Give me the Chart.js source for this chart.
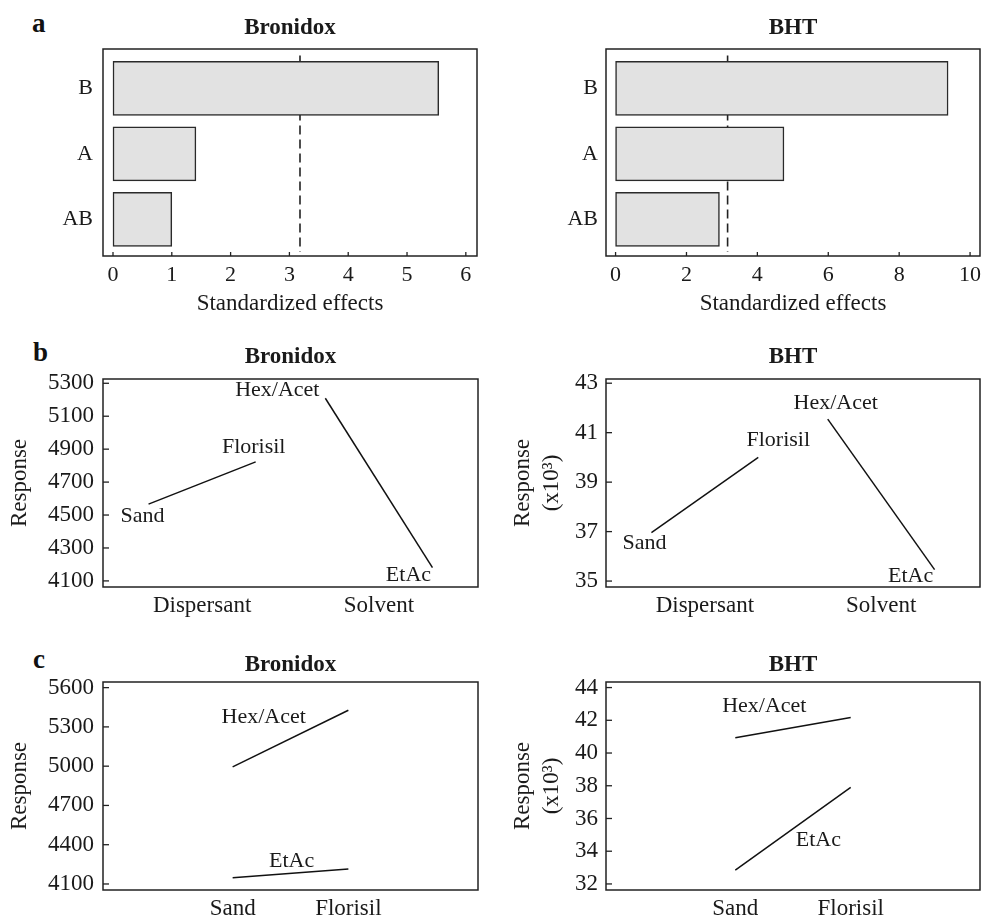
<!DOCTYPE html>
<html>
<head>
<meta charset="utf-8">
<script src="https://cdn.jsdelivr.net/npm/chart.js@4.4.1/dist/chart.umd.min.js"></script>
<style>
html,body{margin:0;padding:0;background:#fff;}
body{width:984px;height:917px;position:relative;overflow:hidden;}
canvas{position:absolute;}
.letter{position:absolute;font-family:"Liberation Serif",serif;font-weight:bold;font-size:27px;line-height:27px;color:#111;}
</style>
</head>
<body>
<div class="letter" style="left:32px;top:10px">a</div>
<div class="letter" style="left:33px;top:339px">b</div>
<div class="letter" style="left:33px;top:646px">c</div>
<canvas id="aL" width="490" height="320" style="left:0;top:0"></canvas>
<canvas id="aR" width="494" height="320" style="left:490px;top:0"></canvas>
<canvas id="bL" width="490" height="300" style="left:0;top:320px"></canvas>
<canvas id="bR" width="494" height="300" style="left:490px;top:320px"></canvas>
<canvas id="cL" width="490" height="297" style="left:0;top:620px"></canvas>
<canvas id="cR" width="494" height="297" style="left:490px;top:620px"></canvas>
<script>
// ---------- data ----------
const analytes = ['Bronidox', 'BHT'];
const effectTerms = ['B', 'A', 'AB'];
const effectBronidox = [5.54, 1.41, 1.00];
const effectBHT = [9.38, 4.75, 2.93];
const criticalBronidox = 3.18;
const criticalBHT = 3.16;
const effectTicksBronidox = [0, 1, 2, 3, 4, 5, 6];
const effectTicksBHT = [0, 2, 4, 6, 8, 10];

const factorNames = ['Dispersant', 'Solvent'];
const dispersantLevels = ['Sand', 'Florisil'];
const solventLevels = ['Hex/Acet', 'EtAc'];

const mainBronidoxDispersant = [4566, 4823];
const mainBronidoxSolvent = [5209, 4181];
const mainBHTDispersant = [36.96, 40.00];
const mainBHTSolvent = [41.55, 35.46];
const mainTicksBronidox = [4100, 4300, 4500, 4700, 4900, 5100, 5300];
const mainTicksBHT = [35, 37, 39, 41, 43];

const interBronidoxHexAcet = [4995, 5427];
const interBronidoxEtAc = [4148, 4214];
const interBHTHexAcet = [40.93, 42.17];
const interBHTEtAc = [32.85, 37.90];
const interTicksBronidox = [4100, 4400, 4700, 5000, 5300, 5600];
const interTicksBHT = [32, 34, 36, 38, 40, 42, 44];

// ---------- styling / layout ----------
const INK = '#1a1a1a';
const FAM = 'Liberation Serif';
Chart.defaults.font.family = FAM;
Chart.defaults.color = INK;
Chart.defaults.animation = false;

// slots along the nominal x axis (range 0..7)
const mainSlots = [[0.85, 2.85], [4.15, 6.15]];
const interSlots = [2.42, 4.58];

const framePlugin = {
  id: 'frame',
  afterDraw(chart, args, opts) {
    const {ctx, chartArea: a} = chart;
    ctx.save();
    ctx.strokeStyle = '#222';
    ctx.lineWidth = 1.5;
    ctx.strokeRect(a.left, a.top, a.right - a.left, a.bottom - a.top);
    ctx.lineWidth = 1.3;
    if (opts.xTick) {
      const s = chart.scales.x;
      s.ticks.forEach(t => {
        const p = s.getPixelForValue(t.value);
        ctx.beginPath(); ctx.moveTo(p, a.bottom); ctx.lineTo(p, a.bottom - opts.xTick); ctx.stroke();
      });
    }
    if (opts.yTick) {
      const s = chart.scales.y;
      s.ticks.forEach(t => {
        const p = s.getPixelForValue(t.value);
        ctx.beginPath(); ctx.moveTo(a.left, p); ctx.lineTo(a.left + opts.yTick, p); ctx.stroke();
      });
    }
    ctx.restore();
  }
};
const levelLabelPlugin = {
  id: 'levelLabels',
  afterDatasetsDraw(chart, args, opts) {
    if (!opts.items) return;
    const ctx = chart.ctx;
    ctx.save();
    ctx.font = '22px "' + FAM + '"';
    ctx.fillStyle = INK;
    ctx.textAlign = 'center';
    ctx.textBaseline = 'middle';
    opts.items.forEach(it => {
      const el = chart.getDatasetMeta(it.ds).data[it.i];
      ctx.fillText(it.text, el.x + it.dx, el.y + it.dy);
    });
    ctx.restore();
  }
};
Chart.register(framePlugin, levelLabelPlugin);

function fixY(w) { return s => { s.width = w; s.paddingTop = 0; s.paddingBottom = 0; }; }
function fixX(h) { return s => { s.height = h; s.paddingLeft = 0; s.paddingRight = 0; }; }
function setTicks(vals) { return s => { s.ticks = vals.map(v => ({value: v})); }; }
const noGrid = {display: false, drawTicks: false};

function titleOpts(text, pTop, pBot) {
  return {display: true, text, fullSize: false, color: INK,
          font: {size: 23, weight: 'bold', lineHeight: 1.2},
          padding: {top: pTop, bottom: pBot}};
}

function effectChart(id, title, values, crit, tickVals, xMin, xMax, g) {
  return new Chart(document.getElementById(id), {
    type: 'bar',
    data: {
      datasets: [
        {type: 'bar', data: effectTerms.map((t, i) => ({x: values[i], y: i})),
         backgroundColor: '#e2e2e2', borderColor: '#2a2a2a', borderWidth: 1.5,
         borderSkipped: false, barThickness: 54},
        {type: 'line', data: [{x: crit, y: -0.5}, {x: crit, y: 2.5}],
         borderColor: '#222', borderWidth: 1.6, borderDash: [9, 5], pointRadius: 0, fill: false}
      ]
    },
    options: {
      indexAxis: 'y', responsive: false, animation: false,
      layout: {padding: {left: 0, right: g.right, top: 0, bottom: 2.2}},
      plugins: {legend: {display: false}, tooltip: {enabled: false},
                title: titleOpts(title, 14.2, 7.2), frame: {xTick: 4}},
      scales: {
        x: {type: 'linear', min: xMin, max: xMax, offset: false, afterBuildTicks: setTicks(tickVals),
            grid: noGrid, border: {display: false},
            ticks: {font: {size: 22}, padding: 6, maxRotation: 0, autoSkip: false, color: INK},
            title: {display: true, text: 'Standardized effects', color: INK, padding: 0,
                    font: {size: 23, lineHeight: 1.2}},
            afterFit: fixX(61.8)},
        y: {type: 'linear', reverse: true, offset: false, min: -0.6, max: 2.56, afterBuildTicks: setTicks([0, 1, 2]),
            grid: noGrid, border: {display: false},
            ticks: {font: {size: 22}, padding: g.yPad, autoSkip: false, color: INK,
                    callback: v => effectTerms[v]},
            afterFit: fixY(g.yWidth)}
      }
    }
  });
}

function lineDs(xs, ys) {
  return {data: ys.map((v, i) => ({x: xs[i], y: v})), borderColor: '#111', borderWidth: 1.5,
          pointRadius: 0, tension: 0, fill: false};
}

function responseChart(id, title, datasets, xTickVals, xTickText, yMin, yMax, yTickVals, yTitle, g, items) {
  return new Chart(document.getElementById(id), {
    type: 'line',
    data: {datasets},
    options: {
      responsive: false, animation: false,
      layout: {padding: {left: g.left, right: g.right, top: 0, bottom: 0}},
      plugins: {legend: {display: false}, tooltip: {enabled: false},
                title: titleOpts(title, g.tTop, g.tBot), frame: {yTick: 6},
                levelLabels: {items}},
      scales: {
        x: {type: 'linear', min: 0, max: 7, offset: false, afterBuildTicks: setTicks(xTickVals),
            grid: noGrid, border: {display: false},
            ticks: {font: {size: 23}, padding: 5, maxRotation: 0, autoSkip: false, color: INK,
                    callback: (v, i) => xTickText[i]},
            afterFit: fixX(g.xH)},
        y: {type: 'linear', min: yMin, max: yMax, offset: false, afterBuildTicks: setTicks(yTickVals),
            grid: noGrid, border: {display: false},
            ticks: {font: {size: 23}, padding: g.yPad, autoSkip: false, color: INK,
                    callback: v => String(v)},
            title: {display: true, text: yTitle, color: INK, padding: 0,
                    font: {size: 23, lineHeight: 1.27}},
            afterFit: fixY(g.yWidth)}
      }
    }
  });
}

// ---- row a: standardized effects ----
effectChart('aL', analytes[0], effectBronidox, criticalBronidox, effectTicksBronidox, -0.17, 6.19,
            {right: 13, yWidth: 103, yPad: 10});
effectChart('aR', analytes[1], effectBHT, criticalBHT, effectTicksBHT, -0.27, 10.28,
            {right: 4, yWidth: 116, yPad: 8});

// ---- row b: main effects ----
const factorCenters = mainSlots.map(s => (s[0] + s[1]) / 2);
responseChart('bL', analytes[0],
  [lineDs(mainSlots[0], mainBronidoxDispersant), lineDs(mainSlots[1], mainBronidoxSolvent)],
  factorCenters, factorNames, 4063, 5326, mainTicksBronidox, 'Response',
  {left: 4.9, right: 12, tTop: 23.2, tBot: 8.2, xH: 33, yWidth: 98.1, yPad: 9},
  [{ds: 0, i: 0, text: dispersantLevels[0], dx: -6, dy: 12},
   {ds: 0, i: 1, text: dispersantLevels[1], dx: -2, dy: -15},
   {ds: 1, i: 0, text: solventLevels[0], dx: -48, dy: -8},
   {ds: 1, i: 1, text: solventLevels[1], dx: -24, dy: 8}]);
responseChart('bR', analytes[1],
  [lineDs(mainSlots[0], mainBHTDispersant), lineDs(mainSlots[1], mainBHTSolvent)],
  factorCenters, factorNames, 34.76, 43.17, mainTicksBHT, ['Response', '(x10³)'],
  {left: 18.4, right: 4, tTop: 23.2, tBot: 8.2, xH: 33, yWidth: 97.6, yPad: 8},
  [{ds: 0, i: 0, text: dispersantLevels[0], dx: -7, dy: 11},
   {ds: 0, i: 1, text: dispersantLevels[1], dx: 20, dy: -17},
   {ds: 1, i: 0, text: solventLevels[0], dx: 8, dy: -16},
   {ds: 1, i: 1, text: solventLevels[1], dx: -24, dy: 7}]);

// ---- row c: interaction ----
responseChart('cL', analytes[0],
  [lineDs(interSlots, interBronidoxHexAcet), lineDs(interSlots, interBronidoxEtAc)],
  interSlots, dispersantLevels, 4054, 5643, interTicksBronidox, 'Response',
  {left: 4.9, right: 12, tTop: 31.2, tBot: 3.2, xH: 27, yWidth: 98.1, yPad: 9},
  [{ds: 0, i: 0, text: solventLevels[0], dx: 31, dy: -50},
   {ds: 1, i: 0, text: solventLevels[1], dx: 59, dy: -16}]);
responseChart('cR', analytes[1],
  [lineDs(interSlots, interBHTHexAcet), lineDs(interSlots, interBHTEtAc)],
  interSlots, dispersantLevels, 31.63, 44.34, interTicksBHT, ['Response', '(x10³)'],
  {left: 17.9, right: 4, tTop: 31.2, tBot: 3.2, xH: 27, yWidth: 98.1, yPad: 8},
  [{ds: 0, i: 0, text: solventLevels[0], dx: 29, dy: -32},
   {ds: 1, i: 0, text: solventLevels[1], dx: 83, dy: -30}]);
</script>
</body>
</html>
